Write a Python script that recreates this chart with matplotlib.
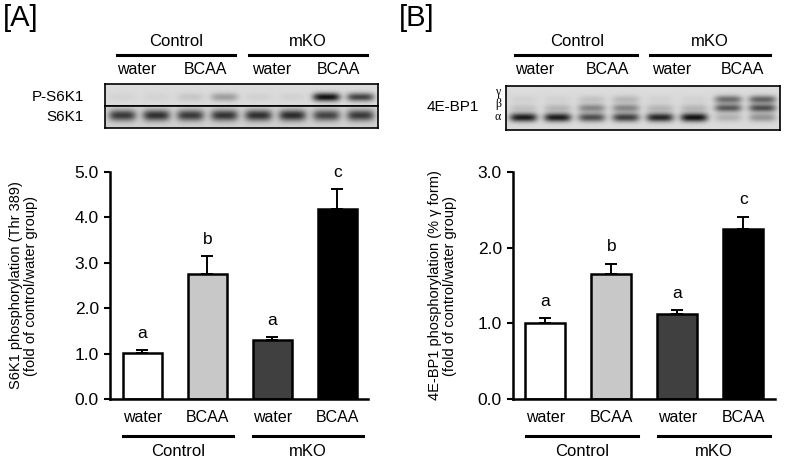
import numpy as np
import matplotlib
matplotlib.use("Agg")
import matplotlib.pyplot as plt

plt.rcParams['font.family'] = ['Liberation Sans', 'DejaVu Sans']

# data
treatments = ['water', 'BCAA', 'water', 'BCAA']
groups = ['Control', 'mKO']
letters = ['a', 'b', 'a', 'c']
bar_colors = ['white', '#c8c8c8', '#404040', 'black']

s6k1_mean = [1.01, 2.75, 1.30, 4.19]
s6k1_err = [0.07, 0.40, 0.06, 0.43]
bp1_mean = [1.00, 1.65, 1.125, 2.25]
bp1_err = [0.07, 0.14, 0.045, 0.16]

# band intensities per lane (8 lanes) read from the blots
p_s6k1_bands = [0.04, 0.04, 0.10, 0.30, 0.05, 0.05, 1.00, 0.75]
s6k1_bands = [0.75, 0.80, 0.75, 0.78, 0.80, 0.82, 0.70, 0.75]
bp1_alpha = [0.95, 0.95, 0.70, 0.78, 0.90, 1.00, 0.20, 0.35]
bp1_beta = [0.12, 0.18, 0.42, 0.42, 0.18, 0.18, 0.65, 0.70]
bp1_gamma = [0.05, 0.05, 0.12, 0.18, 0.05, 0.05, 0.55, 0.60]

W, H = 787, 462
fig = plt.figure(figsize=(W / 100, H / 100), dpi=100)


def px_axes(x0, y0, x1, y1):
    return fig.add_axes([x0 / W, 1 - y1 / H, (x1 - x0) / W, (y1 - y0) / H])


def ftext(x, y, s, **kw):
    fig.text(x / W, 1 - y / H, s, **kw)


def fline(x0, x1, y, lw=2.2):
    fig.add_artist(plt.Line2D([x0 / W, x1 / W], [1 - y / H, 1 - y / H],
                              color='black', lw=lw))


def blot_image(rows, nrow=40, ncol=280, bg=0.86):
    # rows: list of (intensities, y position fraction, y width)
    img = np.full((nrow, ncol), bg)
    xs = np.linspace(0, 1, ncol)
    ys = np.linspace(0, 1, nrow)
    for inten, yc, yw in rows:
        for i, v in enumerate(inten):
            xc = (i + 0.5) / 8
            gx = np.exp(-((xs - xc) / 0.05) ** 4)
            gy = np.exp(-((ys - yc) / yw) ** 2)
            img -= v * 0.8 * np.outer(gy, gx)
    return np.clip(img, 0, 1)


def show_blot(ax, img):
    ax.imshow(img, cmap='gray', vmin=0, vmax=1, aspect='auto',
              interpolation='bicubic')
    ax.set_xticks([])
    ax.set_yticks([])
    for sp in ax.spines.values():
        sp.set_linewidth(1.2)


def bar_panel(ax, means, errs, xlim, ymax, ylabel, label_x):
    x = np.arange(len(means))
    ax.bar(x, means, width=0.61, color=bar_colors, edgecolor='black',
           linewidth=1.8, zorder=2)
    ax.errorbar(x, means, yerr=[np.zeros(len(errs)), errs], fmt='none',
                ecolor='black', elinewidth=1.4, capsize=4, capthick=1.4, zorder=1)
    for xi, m, e, t in zip(x, means, errs, letters):
        ax.annotate(t, (xi, m + e), xytext=(0, 12), textcoords='offset points',
                    ha='center', va='center', fontsize=12.5)
    ax.set_xlim(*xlim)
    ax.set_ylim(0, ymax)
    ax.set_yticks(np.arange(0, ymax + 0.01, 1.0))
    ax.set_yticklabels([f'{v:.1f}' for v in np.arange(0, ymax + 0.01, 1.0)],
                       fontsize=12.5)
    ax.set_xticks(x)
    ax.set_xticklabels(treatments, fontsize=11.5)
    ax.tick_params(axis='x', length=0, pad=8)
    ax.tick_params(axis='y', direction='out', length=4, width=1.5, pad=4)
    for s in ['top', 'right']:
        ax.spines[s].set_visible(False)
    for s in ['left', 'bottom']:
        ax.spines[s].set_linewidth(1.8)
    ax.set_ylabel(ylabel, fontsize=10.5, linespacing=1.05)
    ax.yaxis.set_label_coords(label_x, 0.5)
    tr = ax.get_xaxis_transform()
    for gi, g in enumerate(groups):
        a0, a1 = 2 * gi - 0.3, 2 * gi + 1 + 0.4
        ax.plot([a0, a1], [-0.163, -0.163], color='black', lw=2.2,
                transform=tr, clip_on=False)
        ax.text((a0 + a1) / 2, -0.233, g, transform=tr, ha='center',
                va='center', fontsize=12)


# ---------- panel A ----------
ftext(3, 18, '[A]', fontsize=21, va='center', ha='left')
for cx, g in [(176, 'Control'), (308, 'mKO')]:
    ftext(cx, 42, g, fontsize=12, ha='center', va='center')
fline(117, 235, 55)
fline(249, 367, 55)
for cx, t in zip([137, 205, 272, 338], treatments):
    ftext(cx, 70, t, fontsize=11.5, ha='center', va='center')
ftext(84, 97, 'P-S6K1', fontsize=11, ha='right', va='center')
ftext(84, 117, 'S6K1', fontsize=11, ha='right', va='center')

ax_p = px_axes(105, 84, 378, 106)
show_blot(ax_p, blot_image([(p_s6k1_bands, 0.6, 0.2)], nrow=22))
ax_t = px_axes(105, 106, 378, 128)
show_blot(ax_t, blot_image([(s6k1_bands, 0.45, 0.25)], nrow=22, bg=0.82))

axA = px_axes(110, 172, 368, 399)
bar_panel(axA, s6k1_mean, s6k1_err, (-0.5, 3.47), 5.0,
          'S6K1 phosphorylation (Thr 389)\n(fold of control/water group)',
          -72 / 258)

# ---------- panel B ----------
ftext(399, 18, '[B]', fontsize=21, va='center', ha='left')
for cx, g in [(577, 'Control'), (710, 'mKO')]:
    ftext(cx, 42, g, fontsize=12, ha='center', va='center')
fline(515, 637, 55)
fline(650, 770, 55)
for cx, t in zip([535, 607, 672, 742], treatments):
    ftext(cx, 70, t, fontsize=11.5, ha='center', va='center')
ftext(453, 107, '4E-BP1', fontsize=11, ha='center', va='center')
for y, g in [(92, 'γ'), (104, 'β'), (117, 'α')]:
    ftext(498, y, g, fontsize=8.5, ha='center', va='center',
          family='Liberation Serif')

ax_b = px_axes(506, 86, 780, 130)
show_blot(ax_b, blot_image([(bp1_gamma, 0.3, 0.09), (bp1_beta, 0.5, 0.09),
                            (bp1_alpha, 0.72, 0.1)], nrow=44))

axB = px_axes(513, 172, 775, 399)
bar_panel(axB, bp1_mean, bp1_err, (-0.49, 3.48), 3.0,
          '4E-BP1 phosphorylation (% γ form)\n(fold of control/water group)',
          -56 / 262)

fig.savefig('out.png', dpi=100)
